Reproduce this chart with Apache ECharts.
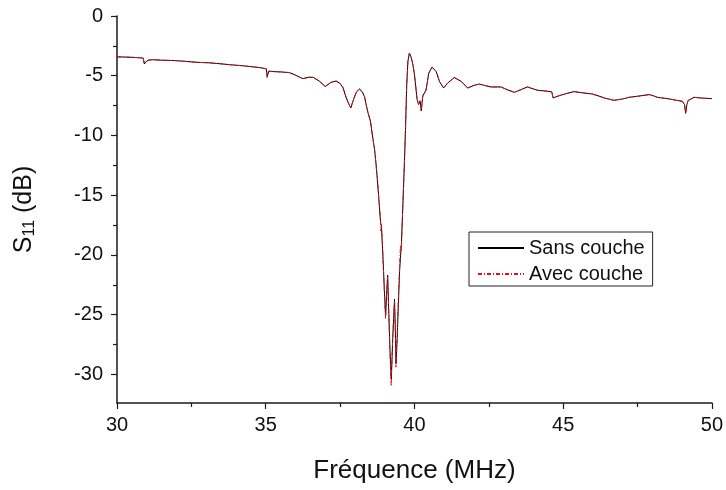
<!DOCTYPE html>
<html>
<head>
<meta charset="utf-8">
<script src="https://cdn.jsdelivr.net/npm/echarts@6/dist/echarts.min.js"></script>
<style>
	html, body { margin: 0; padding: 0; background: #fff; }
	#chart { width: 726px; height: 490px; }
</style>
</head>
<body>
<div id="chart"></div>
<script>
	// fréquences (MHz)
	const freq = [
		30.00, 30.30, 30.60, 30.88, 30.92, 30.96, 31.05, 31.20, 31.50, 31.80,
		32.00, 32.30, 32.60, 32.80, 33.10, 33.35, 33.60, 33.90, 34.24, 34.50,
		34.80, 35.02, 35.05, 35.10, 35.30, 35.50, 35.80, 36.00, 36.25, 36.45,
		36.60, 36.80, 37.00, 37.05, 37.20, 37.37, 37.50, 37.60, 37.70, 37.80,
		37.86, 37.95, 38.05, 38.15, 38.25, 38.32, 38.40, 38.45, 38.52, 38.60,
		38.66, 38.71, 38.75, 38.80, 38.85, 38.87, 38.89, 38.94, 38.99, 39.03,
		39.06, 39.10, 39.14, 39.18, 39.22, 39.25, 39.27, 39.33, 39.36, 39.38,
		39.42, 39.45, 39.50, 39.53, 39.56, 39.61, 39.66, 39.70, 39.74, 39.78,
		39.83, 39.88, 39.94, 40.00, 40.03, 40.09, 40.14, 40.19, 40.23, 40.28,
		40.39, 40.48, 40.59, 40.73, 40.84, 40.98, 41.12, 41.34, 41.57, 41.79,
		42.01, 42.18, 42.57, 42.91, 43.15, 43.36, 43.60, 43.80, 44.14, 44.40,
		44.62, 44.66, 44.87, 45.10, 45.37, 45.70, 45.98, 46.20, 46.38, 46.71,
		47.00, 47.21, 47.50, 47.89, 48.00, 48.17, 48.56, 48.80, 49.00, 49.08,
		49.12, 49.16, 49.20, 49.40, 49.70, 50.00
	];

	// S11 (dB) sans couche
	const sansCouche = [
		-3.42, -3.44, -3.47, -3.52, -4.02, -3.85, -3.70, -3.66, -3.70, -3.72,
		-3.74, -3.80, -3.86, -3.89, -3.92, -3.97, -4.03, -4.10, -4.17, -4.24,
		-4.32, -4.42, -5.10, -4.62, -4.66, -4.68, -4.74, -4.95, -5.25, -5.12,
		-5.14, -5.45, -5.90, -6.00, -5.55, -5.45, -5.65, -6.00, -6.80, -7.40,
		-7.70, -7.00, -6.35, -6.12, -6.35, -6.75, -7.70, -8.20, -8.80, -10.20,
		-11.20, -12.40, -13.60, -15.20, -16.90, -17.40, -17.60, -20.10, -23.00, -25.10,
		-23.50, -21.70, -25.00, -28.10, -30.40, -28.50, -27.00, -23.70, -26.50, -29.10,
		-27.00, -24.80, -21.40, -20.20, -19.20, -15.90, -12.50, -9.50, -5.80, -3.80,
		-3.10, -3.40, -3.95, -4.90, -5.60, -7.00, -7.40, -7.10, -7.95, -6.70,
		-6.20, -4.80, -4.28, -4.64, -5.47, -6.03, -5.61, -5.15, -5.47, -6.03,
		-5.80, -5.70, -5.94, -5.94, -6.20, -6.39, -6.15, -5.94, -6.22, -6.28,
		-6.35, -6.86, -6.67, -6.50, -6.33, -6.45, -6.53, -6.70, -6.86, -7.06,
		-6.95, -6.81, -6.72, -6.58, -6.65, -6.81, -6.94, -7.05, -7.14, -7.40,
		-8.10, -7.40, -7.08, -6.81, -6.88, -6.92
	];

	// S11 (dB) avec couche
	const avecCouche = [
		-3.42, -3.44, -3.47, -3.52, -4.00, -3.85, -3.70, -3.66, -3.70, -3.72,
		-3.74, -3.80, -3.86, -3.89, -3.92, -3.97, -4.03, -4.10, -4.17, -4.24,
		-4.32, -4.42, -5.15, -4.62, -4.66, -4.68, -4.74, -4.95, -5.25, -5.12,
		-5.14, -5.45, -5.90, -6.00, -5.55, -5.45, -5.65, -6.00, -6.80, -7.40,
		-7.70, -7.00, -6.35, -6.12, -6.35, -6.75, -7.70, -8.20, -8.80, -10.20,
		-11.20, -12.60, -13.40, -15.20, -16.70, -18.00, -17.40, -20.10, -23.20, -25.40,
		-23.40, -21.80, -25.20, -28.40, -31.00, -28.30, -26.80, -23.90, -26.70, -29.40,
		-26.80, -24.40, -21.00, -19.20, -19.60, -15.80, -12.40, -9.50, -5.80, -3.80,
		-3.10, -3.40, -3.95, -4.90, -5.60, -7.00, -7.40, -7.10, -7.95, -6.70,
		-6.20, -4.80, -4.28, -4.64, -5.47, -6.03, -5.61, -5.15, -5.47, -6.03,
		-5.80, -5.70, -5.94, -5.94, -6.20, -6.39, -6.15, -5.94, -6.22, -6.28,
		-6.35, -6.86, -6.67, -6.50, -6.33, -6.45, -6.53, -6.70, -6.86, -7.06,
		-6.95, -6.81, -6.72, -6.58, -6.65, -6.81, -6.94, -7.05, -7.14, -7.40,
		-8.20, -7.40, -7.08, -6.81, -6.88, -6.92
	];

	// graduations
	const yTicks = [0, -5, -10, -15, -20, -25, -30];
	const yMinorTicks = [-2.5, -7.5, -12.5, -17.5, -22.5, -27.5];

	const font = 'Liberation Sans, Arial, sans-serif';
	const axisColor = '#1a1a1a';

	let myChart = echarts.init(document.getElementById('chart'));
	let option = {
		animation: false,
		backgroundColor: '#fff',
		grid: {
			left: 117,
			right: 13,
			top: 16,
			bottom: 87
		},
		legend: {
			orient: 'vertical',
			left: 469,
			top: 232,
			padding: [5, 8, 1, 8],
			itemGap: 4,
			itemWidth: 46,
			itemHeight: 22,
			borderColor: '#222',
			borderWidth: 1,
			itemStyle: { opacity: 0 },
			textStyle: {
				fontFamily: font,
				fontSize: 20,
				lineHeight: 22,
				color: '#111'
			},
			data: ['Sans couche', 'Avec couche']
		},
		xAxis: {
			type: 'value',
			min: 30,
			max: 50,
			interval: 5,
			name: 'Fréquence (MHz)',
			nameLocation: 'middle',
			nameGap: 55,
			nameTextStyle: {
				fontFamily: font,
				fontSize: 26,
				color: '#111'
			},
			axisLine: { onZero: false, lineStyle: { color: axisColor, width: 1.5 } },
			axisTick: { length: 6, lineStyle: { color: axisColor, width: 1.2 } },
			minorTick: { show: true, splitNumber: 2, length: 4, lineStyle: { color: axisColor, width: 1.2 } },
			axisLabel: {
				margin: 12,
				fontFamily: font,
				fontSize: 20,
				color: '#111'
			},
			splitLine: { show: false }
		},
		yAxis: [{
			type: 'value',
			min: -32.4,
			max: 0,
			name: '{s|S}{sub|11}{s| (dB)}',
			nameLocation: 'middle',
			nameGap: 79,
			nameTextStyle: {
				fontFamily: font,
				color: '#111',
				rich: {
					s: { fontFamily: font, fontSize: 25, color: '#111' },
					sub: { fontFamily: font, fontSize: 16, color: '#111', verticalAlign: 'bottom', padding: [12, 0, 0, 0] }
				}
			},
			axisLine: { onZero: false, lineStyle: { color: axisColor, width: 1.5 } },
			axisTick: { length: 6, customValues: yTicks, lineStyle: { color: axisColor, width: 1.2 } },
			axisLabel: {
				customValues: yTicks,
				margin: 14,
				fontFamily: font,
				fontSize: 20,
				color: '#111'
			},
			splitLine: { show: false }
		}, {
			// petites graduations
			type: 'value',
			position: 'left',
			min: -32.4,
			max: 0,
			axisLine: { show: false },
			axisTick: { length: 4, customValues: yMinorTicks, lineStyle: { color: axisColor, width: 1.2 } },
			axisLabel: { show: false },
			splitLine: { show: false }
		}],
		series: [{
			name: 'Sans couche',
			type: 'line',
			yAxisIndex: 0,
			symbol: 'none',
			lineStyle: { color: '#000', width: 1 },
			itemStyle: { color: '#000' },
			data: freq.map((f, i) => [f, sansCouche[i]])
		}, {
			name: 'Avec couche',
			type: 'line',
			yAxisIndex: 0,
			symbol: 'none',
			lineStyle: { color: '#e0101a', width: 1, type: [4, 2, 1, 2] },
			itemStyle: { color: '#e0101a' },
			data: freq.map((f, i) => [f, avecCouche[i]])
		}]
	};
	myChart.setOption(option);
</script>
</body>
</html>
